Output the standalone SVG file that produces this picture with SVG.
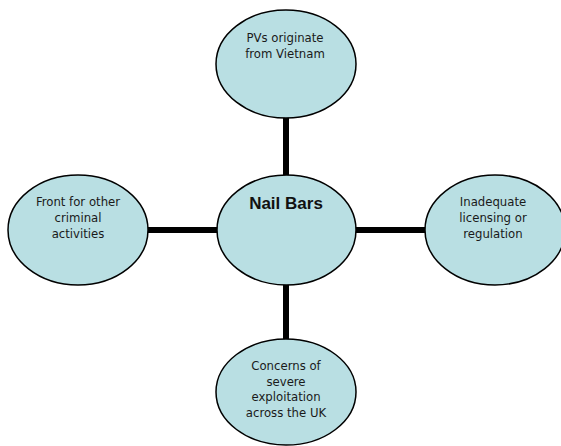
<svg xmlns="http://www.w3.org/2000/svg" width="561" height="446" viewBox="0 0 561 446">
<style>
.node{fill:#B9DFE3;stroke:#000;stroke-width:1.5}
.conn{stroke:#000;stroke-width:6;fill:none}
.t{font-family:"DejaVu Sans Condensed","DejaVu Sans",sans-serif;font-size:13px;fill:#1a1a1a;text-anchor:middle}
.b{font-family:"Liberation Sans",Arial,sans-serif;font-size:17px;font-weight:bold;fill:#111;text-anchor:middle}
</style>
<rect width="561" height="446" fill="#fff"/>
<g id="connectors">
<line class="conn" x1="286" y1="117" x2="286" y2="176"/>
<line class="conn" x1="148" y1="230" x2="218" y2="230"/>
<line class="conn" x1="355" y1="230" x2="425" y2="230"/>
<line class="conn" x1="286" y1="284" x2="286" y2="341"/>
</g>
<g id="center">
<ellipse class="node" cx="286.5" cy="230" rx="69.5" ry="55"/>
<text class="b" x="286" y="209">Nail Bars</text>
</g>
<g id="top">
<ellipse class="node" cx="286" cy="64" rx="70" ry="54"/>
<text class="t" x="285" y="42">PVs originate</text>
<text class="t" x="285" y="58">from Vietnam</text>
</g>
<g id="left">
<ellipse class="node" cx="78" cy="230" rx="70" ry="55"/>
<text class="t" x="78" y="206">Front for other</text>
<text class="t" x="78" y="222">criminal</text>
<text class="t" x="78" y="238">activities</text>
</g>
<g id="right">
<ellipse class="node" cx="495" cy="230" rx="70" ry="55"/>
<text class="t" x="493" y="206">Inadequate</text>
<text class="t" x="493" y="222">licensing or</text>
<text class="t" x="493" y="238">regulation</text>
</g>
<g id="bottom">
<ellipse class="node" cx="286" cy="392" rx="70" ry="53"/>
<text class="t" x="286" y="370">Concerns of</text>
<text class="t" x="286" y="386">severe</text>
<text class="t" x="286" y="401">exploitation</text>
<text class="t" x="286" y="417">across the UK</text>
</g>
</svg>
